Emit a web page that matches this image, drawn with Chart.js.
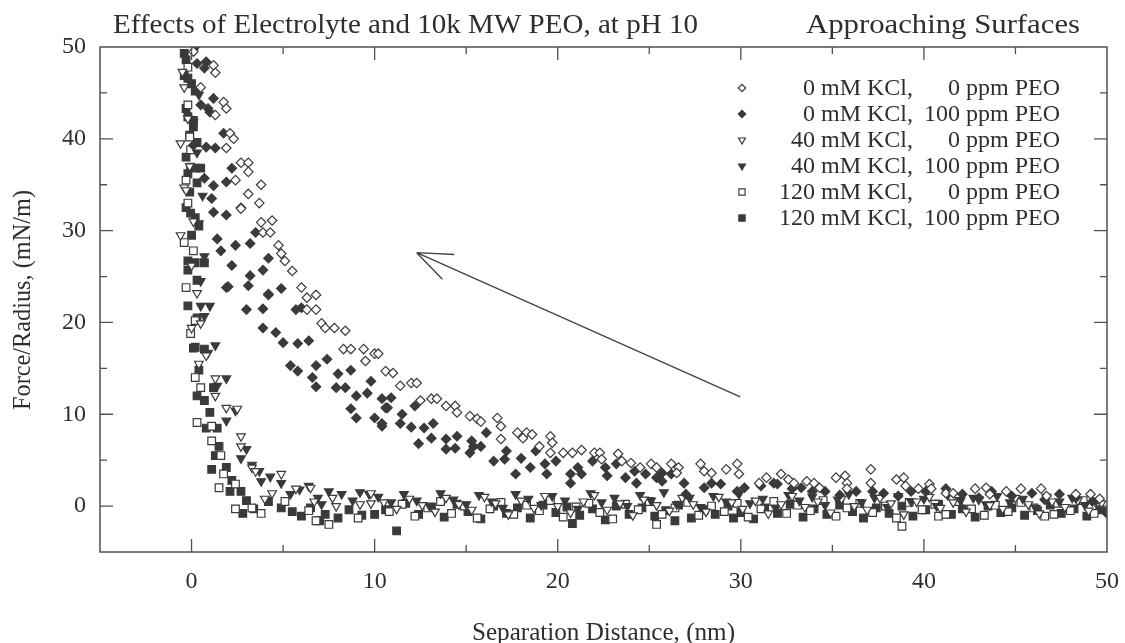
<!DOCTYPE html>
<html>
<head>
<meta charset="utf-8">
<title>Effects of Electrolyte and 10k MW PEO, at pH 10</title>
<script src="https://cdn.jsdelivr.net/npm/chart.js@4/dist/chart.umd.min.js"></script>
<style>
  html, body { margin: 0; padding: 0; background: #fff; }
  #wrap { width: 1125px; height: 643px; }
</style>
</head>
<body>
<div id="wrap"><canvas id="forceChart" width="1125" height="643"></canvas></div>
<script>
"use strict";

// Force/radius vs separation, [distance nm, force mN/m]
const kcl0Peo0 = [
  [0.1,49.5],[1.2,48.0],[1.3,47.2],[0.5,45.6],[1.75,44.0],[1.9,43.3],[1.3,42.6],[2.1,40.6],[2.3,40.0],[1.9,39.0],
  [2.7,37.4],[3.1,37.4],[3.1,36.4],[2.4,35.5],[3.8,35.0],[3.1,34.0],[3.7,33.0],[2.7,32.4],[3.8,30.9],[4.4,31.1],
  [3.9,29.8],[4.3,29.8],[4.75,28.4],[4.9,27.5],[5.1,26.7],[5.5,25.6],[6.0,23.8],[6.3,22.7],[6.8,23.0],[6.3,21.4],
  [6.8,21.4],[7.1,19.9],[7.3,19.4],[7.8,19.4],[8.4,19.1],[8.3,17.1],[8.7,17.1],[9.4,17.1],[10.0,16.6],[9.5,15.8],
  [10.6,14.7],[10.2,16.6],[11.0,14.5],[11.4,13.1],[12.0,13.4],[12.3,13.4],[12.5,11.5],[13.1,11.7],[13.4,11.7],[13.9,10.9],
  [14.4,10.9],[14.5,10.2],[15.2,9.8],[15.6,9.5],[15.8,9.2],[16.7,9.6],[16.9,8.7],[16.9,7.3],[17.8,8.0],[18.3,8.0],
  [18.1,7.4],[18.6,7.8],[19.0,6.5],[19.6,7.6],[19.7,6.9],[19.6,5.8],[20.3,5.8],[20.8,5.8],[21.3,6.1],[22.0,5.8],
  [22.3,5.8],[22.4,5.1],[23.3,5.7],[23.5,4.9],[24.0,4.7],[24.5,4.2],[25.1,4.6],[25.4,4.2],[26.2,4.6],[26.6,4.2],
  [26.5,3.6],[27.8,4.6],[28.0,3.8],[28.4,3.6],[29.2,4.0],[29.8,4.6],[29.9,3.5],[31.0,2.5],[31.4,3.1],[32.2,3.5],
  [32.6,2.9],[32.9,2.5],[33.6,2.7],[34.0,2.5],[34.3,2.0],[35.2,3.1],[35.7,3.3],[35.8,2.5],[35.8,1.9],[37.1,4.0],
  [37.1,2.5],[38.5,2.9],[38.9,3.1],[39.0,2.2],[39.7,1.9],[40.3,2.4],[40.4,1.9],[41.2,1.4],[41.6,1.4],[42.8,1.9],
  [43.4,2.0],[43.6,1.3],[44.5,1.6],[45.3,1.9],[46.4,1.9],[46.7,1.1],[48.3,1.3],[49.1,1.3],[49.6,0.8]
];

const kcl0Peo100 = [
  [0.3,48.2],[0.8,48.4],[0.7,47.7],[1.2,44.4],[0.5,43.7],[0.9,43.3],[1.0,42.9],[1.75,40.6],[0.1,39.3],[0.8,39.1],
  [1.3,39.0],[2.2,36.8],[0.7,35.7],[1.2,34.9],[1.9,35.3],[2.7,32.5],[1.1,33.5],[1.2,32.0],[1.9,31.7],[3.5,29.8],
  [1.4,29.1],[2.4,28.4],[3.2,28.6],[1.6,27.8],[4.2,27.0],[2.2,26.2],[3.9,25.7],[3.2,25.1],[1.9,23.8],[3.1,24.0],
  [4.2,23.1],[4.9,23.7],[2.0,23.9],[4.2,23.0],[3.0,21.4],[3.9,21.5],[5.7,21.4],[6.0,21.6],[3.9,19.4],[4.6,18.9],
  [5.0,17.8],[5.8,17.7],[6.4,18.0],[7.4,16.0],[5.4,15.3],[5.8,14.7],[6.8,15.3],[6.6,14.0],[8.0,14.4],[8.7,14.8],
  [6.8,13.0],[7.9,12.9],[8.4,12.9],[9.0,12.0],[9.6,12.3],[9.8,13.6],[10.4,11.7],[8.7,10.6],[9.0,9.6],[10.0,9.6],
  [10.4,8.7],[10.6,10.7],[10.9,11.8],[10.7,10.7],[10.4,9.0],[11.5,10.0],[11.4,9.0],[12.0,8.6],[12.2,10.9],[12.7,8.5],
  [13.2,9.0],[12.4,6.8],[13.1,7.4],[13.9,7.3],[14.5,7.6],[13.9,6.2],[14.4,6.3],[15.3,7.1],[15.4,6.5],[15.8,6.5],
  [15.2,5.8],[16.1,8.0],[16.5,4.9],[17.1,5.1],[17.2,6.0],[17.7,3.5],[18.0,5.2],[18.5,4.2],[18.8,6.0],[19.3,4.6],
  [19.4,3.5],[19.9,4.9],[20.7,3.5],[20.7,2.5],[21.1,4.2],[21.3,3.5],[21.9,4.9],[22.6,4.2],[22.7,3.3],[23.2,4.6],
  [23.7,3.1],[24.2,3.8],[24.3,2.5],[24.8,3.5],[25.4,3.1],[25.7,3.6],[25.7,2.7],[26.2,3.5],[26.9,2.5],[27.0,1.3],
  [28.0,2.0],[28.4,2.5],[28.9,2.4],[29.8,1.6],[30.2,2.0],[31.1,2.2],[31.8,2.5],[32.0,2.4],[32.8,1.9],[33.3,2.0],
  [33.9,1.6],[34.6,1.6],[35.4,1.2],[36.3,1.6],[37.2,1.6],[37.8,1.4],[38.6,1.1],[39.3,1.6],[40.1,1.6],[41.2,1.9],
  [42.1,1.3],[43.0,0.9],[43.7,1.6],[44.8,1.1],[45.9,1.4],[46.6,0.7],[47.4,1.3],[48.3,0.9],[49.2,0.5],[50.0,-0.8]
];

const kcl40Peo0 = [
  [-0.5,47.3],[-0.4,45.6],[-0.2,42.2],[-0.6,39.5],[-0.1,37.0],[-0.4,34.7],[-0.3,34.4],[0.1,31.0],[-0.6,29.5],[0.0,26.2],
  [0.3,23.2],[0.0,19.4],[0.5,19.9],[0.8,16.4],[0.4,15.5],[1.3,13.9],[1.3,12.0],[1.9,10.7],[2.5,10.6],[2.7,7.6],
  [2.7,6.5],[3.3,4.2],[3.5,3.8],[4.9,3.5],[4.4,1.4],[5.7,1.9],[6.5,2.0],[7.7,0.9],[7.9,0.0],[9.2,0.2],
  [9.8,1.4],[9.8,0.3],[6.7,0.5],[4.0,0.8],
  [10.5,0.4],[11.2,-0.3],[11.9,0.8],[12.6,0.1],[13.3,-0.6],[13.9,0.9],[14.6,0.2],[15.3,-0.4],[16.0,1.0],[16.6,0.3],
  [17.3,-0.9],[18.0,0.6],[18.7,-0.2],[19.3,1.1],[20.0,0.0],[20.7,-0.7],[21.4,0.5],[22.0,1.2],[22.7,-0.4],[23.4,0.3],
  [24.1,-1.0],[24.7,0.7],[25.4,0.1],[26.1,-0.5],[26.8,0.9],[27.4,0.2],[28.1,-0.6],[28.8,1.0],[29.5,0.4],[30.1,-0.3],
  [30.8,0.6],[31.5,-0.8],[32.2,0.2],[32.8,1.1],[33.5,-0.1],[34.2,0.5],[34.9,-0.7],[35.5,0.8],[36.2,0.0],[36.9,-0.4],
  [37.6,0.9],[38.2,0.3],[38.9,-0.9],[39.6,0.5],[40.3,1.0],[40.9,-0.2],[41.6,0.4],[42.3,-0.6],[43.0,0.7],[43.6,0.1],
  [44.3,-0.3],[45.0,0.9],[45.7,0.2],[46.3,-0.8],[47.0,0.5],[47.7,-0.1],[48.4,0.6],[49.0,-0.5],[49.7,0.3]
];

const kcl40Peo100 = [
  [0.2,49.8],[0.4,44.8],[0.1,41.8],[0.3,38.5],[0.6,33.8],[0.4,30.8],[0.7,27.2],[0.5,24.5],[0.5,21.8],[1.0,21.8],
  [0.7,20.7],[1.3,17.5],[0.9,16.7],[1.9,13.9],[1.4,13.1],[2.4,10.4],[1.9,9.3],[3.0,6.2],[2.7,5.2],[3.7,3.8],
  [3.8,2.7],[4.9,2.5],[5.4,1.3],[6.4,2.2],[7.5,1.6],[8.2,1.3],[9.7,1.3],[7.1,0.2],[3.3,4.5],[4.3,3.2],
  [5.9,1.8],[6.9,0.9],[8.8,0.6],[9.2,1.5],
  [10.2,1.0],[10.9,0.4],[11.6,1.3],[12.3,0.6],[13.0,0.0],[13.6,1.4],[14.3,0.7],[15.0,0.2],[15.7,1.2],[16.4,0.5],
  [17.0,-0.2],[17.7,1.3],[18.4,0.8],[19.1,0.1],[19.7,1.1],[20.4,0.6],[21.1,-0.3],[21.8,1.4],[22.4,0.4],[23.1,0.9],
  [23.8,0.0],[24.5,1.2],[25.1,0.6],[25.8,1.5],[26.5,0.2],[27.2,0.9],[27.8,-0.1],[28.5,1.1],[29.2,0.5],[29.9,1.3],
  [30.5,0.3],[31.2,0.8],[31.9,-0.2],[32.6,1.2],[33.2,0.6],[33.9,1.0],[34.6,0.1],[35.3,0.7],[35.9,1.3],[36.6,0.4],
  [37.3,0.9],[38.0,-0.1],[38.6,1.1],[39.3,0.5],[40.0,0.8],[40.7,0.0],[41.3,1.2],[42.0,0.6],[42.7,0.9],[43.4,0.2],
  [44.0,1.1],[44.7,0.4],[45.4,0.8],[46.1,-0.2],[46.7,1.0],[47.4,0.5],[48.1,0.9],[48.8,0.1],[49.4,0.6],[50.0,-0.4]
];

const kcl120Peo0 = [
  [-0.2,47.8],[-0.2,43.7],[-0.1,40.2],[-0.05,38.8],[-0.3,35.5],[-0.2,33.0],[-0.4,28.7],[0.1,27.8],[-0.3,23.8],[0.2,20.2],
  [-0.05,18.8],[0.2,14.0],[0.5,12.9],[0.3,9.1],[1.1,8.7],[1.1,7.1],[1.6,5.5],[1.75,3.5],[1.5,2.0],[2.4,2.4],
  [2.4,-0.3],[3.3,-0.2],[3.8,-0.8],[5.1,0.5],[6.4,-0.5],[6.8,-1.6],[7.5,-2.0],[9.1,-1.3],
  [10.8,-0.6],[11.5,0.2],[12.2,-1.1],[12.9,-0.2],[13.6,0.5],[14.2,-0.8],[14.9,0.0],[15.6,-1.3],[16.3,-0.3],[16.9,0.4],
  [17.6,-0.9],[18.3,0.1],[19.0,-0.5],[19.6,0.6],[20.3,-1.2],[21.0,-0.1],[21.7,0.3],[22.3,-0.7],[23.0,-1.4],[23.7,0.2],
  [24.4,-0.4],[25.0,0.5],[25.4,-2.0],[25.7,-0.9],[26.4,-0.2],[27.1,0.4],[27.7,-1.0],[28.4,0.0],[29.1,-0.6],[29.8,0.3],
  [30.4,-1.2],[31.1,-0.3],[31.8,0.5],[32.5,-0.8],[33.1,0.1],[33.8,-0.5],[34.5,0.6],[35.2,-1.1],[35.8,-0.2],[36.5,0.3],
  [37.2,-0.7],[37.9,0.0],[38.5,-1.3],[38.8,-2.2],[39.2,0.4],[39.9,-0.4],[40.6,0.2],[40.8,-1.1],[41.2,-0.9],[41.9,0.5],
  [42.6,-0.3],[43.3,-1.0],[43.9,0.1],[44.6,-0.6],[45.3,0.4],[46.0,-0.2],[46.6,-1.1],[47.1,-0.9],[47.3,0.3],[48.0,-0.5],
  [48.7,0.6],[49.3,-0.8]
];

const kcl120Peo100 = [
  [-0.4,49.3],[-0.3,48.6],[-0.4,46.9],[-0.2,46.6],[0.0,46.0],[0.2,45.2],[-0.3,43.3],[-0.2,42.4],[0.1,42.0],[0.1,41.3],
  [-0.1,40.4],[0.3,39.6],[-0.3,38.0],[-0.05,36.9],[0.2,36.8],[0.5,36.8],[-0.2,36.2],[0.3,35.2],[-0.1,34.2],[-0.3,32.5],
  [-0.05,31.9],[0.2,31.4],[0.4,30.5],[0.0,29.5],[-0.2,26.7],[0.2,26.5],[0.7,26.5],[-0.2,25.7],[0.3,24.6],[-0.2,21.8],
  [0.3,20.5],[0.1,17.2],[0.2,17.3],[0.7,17.1],[0.4,14.8],[0.3,12.0],[0.7,11.5],[1.2,12.9],[1.0,10.2],[0.8,8.5],
  [1.4,8.5],[1.5,6.5],[1.3,5.5],[1.1,4.0],[1.9,4.2],[2.2,2.8],[2.1,1.6],[2.7,1.6],[3.0,0.6],[2.8,-0.8],
  [3.4,-0.3],[4.2,0.5],[4.9,-0.2],[5.5,-0.6],[6.0,-1.1],[6.5,-0.2],[7.0,-1.6],[7.3,-0.9],[8.0,-1.3],[8.6,-0.4],
  [9.3,-1.0],[10.0,-0.9],[11.2,-2.7],
  [10.6,-0.4],[11.7,0.3],[12.4,-0.9],[13.1,-0.1],[13.8,-1.2],[14.5,0.2],[15.1,-0.6],[15.8,-1.4],[16.5,0.0],[17.2,-0.8],
  [17.8,-0.2],[18.5,-1.3],[19.2,0.1],[19.9,-0.7],[20.5,-0.1],[20.8,-1.9],[21.2,-1.0],[21.9,-0.3],[22.6,-1.5],[23.2,0.0],
  [23.9,-0.9],[24.6,-0.2],[25.3,-1.1],[25.9,-0.5],[26.4,-1.6],[26.6,0.1],[27.3,-1.3],[28.0,-0.4],[28.6,-0.9],[29.3,0.0],
  [29.6,-1.3],[30.0,-0.7],[30.7,-1.4],[31.3,-0.2],[32.0,-0.8],[32.7,0.2],[33.4,-1.2],[34.0,-0.3],[34.7,-0.9],[35.4,0.1],
  [36.1,-0.6],[36.7,-1.3],[37.4,-0.2],[38.1,-0.8],[38.8,0.0],[39.4,-1.1],[40.1,-0.4],[40.8,0.2],[41.5,-0.9],[42.1,-0.3],
  [42.8,-1.2],[43.5,0.0],[44.2,-0.7],[44.8,-0.2],[45.5,-1.0],[46.2,-0.5],[46.9,0.1],[47.5,-0.8],[48.2,-0.3],[48.9,-1.1],
  [49.6,-0.4]
];

const seriesLabels = [
  ["0 mM KCl,", "0 ppm PEO"],
  ["0 mM KCl,", "100 ppm PEO"],
  ["40 mM KCl,", "0 ppm PEO"],
  ["40 mM KCl,", "100 ppm PEO"],
  ["120 mM KCl,", "0 ppm PEO"],
  ["120 mM KCl,", "100 ppm PEO"]
];

const xRange = [-5, 50];
const yRange = [-5, 50];
const tickStep = 5;
const labelStep = 10;

// approach direction arrow, in data units: tail, tip, two barb ends
const arrowTail = [29.97, 11.9];
const arrowTip = [12.3, 27.6];
const arrowBarbs = [[14.35, 27.4], [13.7, 24.7]];

const INK = "#3a3a3a";
const TEXT = "#2e2e2e";
const SERIF = "'Liberation Serif', 'Times New Roman', serif";

const marker = [
  { pointStyle: "rectRot", rotation: 0, radius: 4.7, fill: "#fff" },
  { pointStyle: "rectRot", rotation: 0, radius: 4.7, fill: INK },
  { pointStyle: "triangle", rotation: 180, radius: 5, fill: "#fff" },
  { pointStyle: "triangle", rotation: 180, radius: 5, fill: INK },
  { pointStyle: "rect", rotation: 0, radius: 5.4, fill: "#fff" },
  { pointStyle: "rect", rotation: 0, radius: 5.4, fill: INK }
];

const allSeries = [kcl0Peo0, kcl0Peo100, kcl40Peo0, kcl40Peo100, kcl120Peo0, kcl120Peo100];

const datasets = allSeries.map((pts, i) => ({
  label: seriesLabels[i].join(" "),
  data: pts.map(p => ({ x: p[0], y: p[1] })),
  pointStyle: marker[i].pointStyle,
  rotation: marker[i].rotation,
  pointRadius: marker[i].radius,
  pointBackgroundColor: marker[i].fill,
  pointBorderColor: INK,
  pointBorderWidth: 1.2,
  showLine: false
}));

// text squeezed/stretched to a given width
function fitText(ctx, text, x, y, width, align) {
  const w = ctx.measureText(text).width;
  ctx.save();
  ctx.translate(x, y);
  ctx.scale(width / w, 1);
  ctx.textAlign = align;
  ctx.fillText(text, 0, 0);
  ctx.restore();
}

const framePlugin = {
  id: "frame",
  afterDatasetsDraw(chart) {
    const ctx = chart.ctx;
    const a = chart.chartArea;
    const xs = chart.scales.x;
    const ys = chart.scales.y;
    ctx.save();
    ctx.strokeStyle = "#505050";
    ctx.lineWidth = 1.5;
    ctx.strokeRect(a.left, a.top, a.right - a.left, a.bottom - a.top);

    // inward ticks on all four sides
    ctx.lineWidth = 1.3;
    ctx.beginPath();
    xs.ticks.forEach(t => {
      if (t.value <= xRange[0] || t.value >= xRange[1]) return;
      const len = t.value % labelStep === 0 ? 13 : 7;
      const px = xs.getPixelForValue(t.value);
      ctx.moveTo(px, a.bottom); ctx.lineTo(px, a.bottom - len);
      ctx.moveTo(px, a.top); ctx.lineTo(px, a.top + len);
    });
    ys.ticks.forEach(t => {
      if (t.value <= yRange[0] || t.value >= yRange[1]) return;
      const len = t.value % labelStep === 0 ? 13 : 7;
      const py = ys.getPixelForValue(t.value);
      ctx.moveTo(a.left, py); ctx.lineTo(a.left + len, py);
      ctx.moveTo(a.right, py); ctx.lineTo(a.right - len, py);
    });
    ctx.stroke();

    // arrow
    const P = p => [xs.getPixelForValue(p[0]), ys.getPixelForValue(p[1])];
    const tip = P(arrowTip);
    ctx.strokeStyle = "#444";
    ctx.lineWidth = 1.4;
    ctx.beginPath();
    ctx.moveTo(...P(arrowTail)); ctx.lineTo(...tip);
    arrowBarbs.forEach(b => { ctx.moveTo(...tip); ctx.lineTo(...P(b)); });
    ctx.stroke();
    ctx.restore();
  },
  afterDraw(chart) {
    const ctx = chart.ctx;
    ctx.save();
    ctx.fillStyle = TEXT;
    ctx.textBaseline = "alphabetic";

    ctx.font = "27px " + SERIF;
    fitText(ctx, "Effects of Electrolyte and 10k MW PEO, at pH 10", 113, 33, 585, "left");
    fitText(ctx, "Approaching Surfaces", 806, 33, 274, "left");

    ctx.font = "25px " + SERIF;
    fitText(ctx, "Separation Distance, (nm)", 472, 640, 263, "left");
    ctx.save();
    ctx.translate(30, 300);
    ctx.rotate(-Math.PI / 2);
    fitText(ctx, "Force/Radius, (mN/m)", 0, 0, 220, "center");
    ctx.restore();

    // legend
    ctx.font = "24px " + SERIF;
    ctx.textBaseline = "middle";
    seriesLabels.forEach((lab, i) => {
      const y = 88 + 26 * i;
      ctx.fillStyle = TEXT;
      ctx.textAlign = "right";
      ctx.fillText(lab[0], 913, y + 1);
      ctx.fillText(lab[1], 1060, y + 1);
      ctx.fillStyle = marker[i].fill;
      ctx.strokeStyle = INK;
      ctx.lineWidth = 1.2;
      Chart.helpers.drawPoint(ctx, {
        pointStyle: marker[i].pointStyle,
        rotation: marker[i].rotation,
        radius: marker[i].radius - 1,
        borderWidth: 1.2
      }, 742, y);
    });
    ctx.restore();
  }
};

const tickFont = { family: SERIF, size: 24 };

const config = {
  type: "scatter",
  data: { datasets: datasets },
  options: {
    responsive: false,
    animation: false,
    layout: { padding: { top: 47, right: 18, left: 0, bottom: 0 } },
    scales: {
      x: {
        type: "linear",
        min: xRange[0],
        max: xRange[1],
        grid: { display: false, drawTicks: false },
        border: { display: false },
        afterFit: s => { s.height = 91; s.paddingLeft = 0; s.paddingRight = 0; },
        ticks: {
          stepSize: tickStep,
          autoSkip: false,
          maxRotation: 0,
          padding: 15,
          color: TEXT,
          font: tickFont,
          callback: v => (v % labelStep === 0 ? String(v) : "")
        }
      },
      y: {
        type: "linear",
        min: yRange[0],
        max: yRange[1],
        grid: { display: false, drawTicks: false },
        border: { display: false },
        afterFit: s => { s.width = 100; s.paddingTop = 0; s.paddingBottom = 0; },
        ticks: {
          stepSize: tickStep,
          autoSkip: false,
          padding: 14,
          color: TEXT,
          font: tickFont,
          callback: v => (v % labelStep === 0 ? String(v) : "")
        }
      }
    },
    plugins: {
      legend: { display: false },
      tooltip: { enabled: false }
    }
  },
  plugins: [framePlugin]
};

const forceChart = new Chart(document.getElementById("forceChart"), config);
</script>
</body>
</html>
